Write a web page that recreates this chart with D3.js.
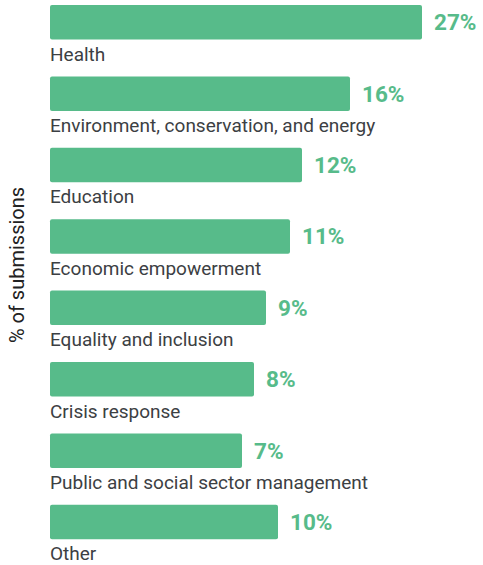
<!DOCTYPE html>
<html>
<head>
<meta charset="utf-8">
<script src="https://cdn.jsdelivr.net/npm/d3@7"></script>
<style>
  body { margin: 0; background: #fff; }
  svg { display: block; font-family: Roboto, "Open Sans", sans-serif; }
</style>
</head>
<body>
<svg id="chart"></svg>
<script>
// chart data
var categories = [
  "Health",
  "Environment, conservation, and energy",
  "Education",
  "Economic empowerment",
  "Equality and inclusion",
  "Crisis response",
  "Public and social sector management",
  "Other"
];
var shares = [27, 16, 12, 11, 9, 8, 7, 10];
var axisTitle = "% of submissions";

var width = 483, height = 565;
var svg = d3.select("#chart")
    .attr("width", width)
    .attr("height", height);

var data = categories.map(function(c, i) { return {name: c, value: shares[i]}; });

// bars start at the left edge, the scale is clamped at the right
var x = d3.scaleLinear().domain([-9, 22]).range([50, 422]).clamp(true);

var y = d3.scaleBand()
    .domain(categories)
    .range([5, 5 + 71.4 * categories.length])
    .paddingInner(0)
    .paddingOuter(0);

var barH = 34.5;
var green = "#57bb8a";

var g = svg.append("g");

g.selectAll("rect.bar")
    .data(data)
    .enter()
    .append("rect")
    .attr("class", "bar")
    .attr("x", x(-9))
    .attr("y", function(d) { return y(d.name); })
    .attr("width", function(d) { return x(d.value) - x(-9); })
    .attr("height", barH)
    .attr("rx", 2)
    .attr("fill", green);

// value labels
g.selectAll("text.val")
    .data(data)
    .enter()
    .append("text")
    .attr("class", "val")
    .attr("x", function(d) { return x(d.value) + 12; })
    .attr("y", function(d) { return y(d.name) + barH / 2 + 8; })
    .style("font-size", "22.5px")
    .style("font-weight", "bold")
    .style("fill", green)
    .text(function(d) { return d.value + "%"; });

// category labels under bars
g.selectAll("text.cat")
    .data(data)
    .enter()
    .append("text")
    .attr("class", "cat")
    .attr("x", x(-9))
    .attr("y", function(d) { return y(d.name) + barH + 21; })
    .style("font-size", "19px")
    .style("fill", "#3c4043")
    .text(function(d) { return d.name; });

// axis title
svg.append("text")
    .attr("transform", "translate(24,265) rotate(-90)")
    .style("text-anchor", "middle")
    .style("font-size", "20px")
    .style("fill", "#222")
    .text(axisTitle);
</script>
</body>
</html>
